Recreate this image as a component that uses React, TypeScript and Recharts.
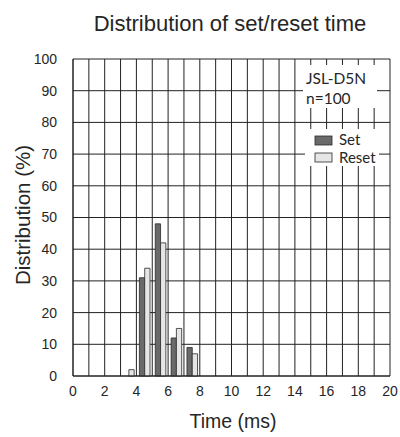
import { BarChart, Bar, XAxis, YAxis, CartesianGrid } from "recharts"

// time bins (ms), bar sits at bin center
const binCenters = [3.5, 4.5, 5.5, 6.5, 7.5]
const setPct = [0, 31, 48, 12, 9]
const resetPct = [2, 34, 42, 15, 7]

const xTicks = [0, 1, 2, 3, 4, 5, 6, 7, 8, 9, 10, 11, 12, 13, 14, 15, 16, 17, 18, 19, 20]
const yTicks = [0, 10, 20, 30, 40, 50, 60, 70, 80, 90, 100]

const seriesNames = ["Set", "Reset"]
const modelName = "JSL-D5N"
const sampleLabel = "n=100"

const data = binCenters.map((bin, i) => ({ bin, set: setPct[i], reset: resetPct[i] }))

const FONT = "'Liberation Sans', Arial, sans-serif"
const NOTE_FONT = "Lato, 'Liberation Sans', sans-serif"
const SET_FILL = "#6a6a6a"
const RESET_FILL = "#e6e6e6"
const EDGE = "#2a2a2a"
const TEXT = "#262626"

export default function App() {
  return (
    <div style={{ position: "absolute", left: 0, top: 0, width: 400, height: 437, background: "#fff" }}>
      <BarChart
        width={400}
        height={437}
        data={data}
        margin={{ top: 59, right: 10, left: 0, bottom: 31 }}
        barGap={0}
      >
        <CartesianGrid stroke="#222" strokeWidth={1} />
        <XAxis
          dataKey="bin"
          type="number"
          domain={[0, 20]}
          ticks={xTicks}
          interval={0}
          height={30}
          tickSize={0}
          tickMargin={10}
          tickFormatter={(v) => (v % 2 === 0 ? String(v) : "")}
          tick={{ fill: TEXT, fontSize: 14, fontFamily: FONT }}
          axisLine={{ stroke: "#222" }}
        />
        <YAxis
          type="number"
          domain={[0, 100]}
          ticks={yTicks}
          interval={0}
          width={73}
          tickSize={0}
          tickMargin={16}
          tick={{ fill: TEXT, fontSize: 14, fontFamily: FONT }}
          axisLine={{ stroke: "#222" }}
        />
        <Bar dataKey="set" name={seriesNames[0]} fill={SET_FILL} stroke={EDGE} strokeWidth={0.8} barSize={5.3} isAnimationActive={false} />
        <Bar dataKey="reset" name={seriesNames[1]} fill={RESET_FILL} stroke={EDGE} strokeWidth={0.8} barSize={5.3} isAnimationActive={false} />
      </BarChart>
      <svg
        width={400}
        height={437}
        style={{ position: "absolute", left: 0, top: 0, pointerEvents: "none" }}
      >
        <text x={230} y={31} textAnchor="middle" fontSize={22} fontFamily={FONT} fill={TEXT}>
          Distribution of set/reset time
        </text>
        <text x={233} y={428} textAnchor="middle" fontSize={19.5} fontFamily={FONT} fill={TEXT}>
          Time (ms)
        </text>
        <text
          transform="translate(30,215) rotate(-90)"
          textAnchor="middle"
          fontSize={20.5}
          fontFamily={FONT}
          fill={TEXT}
        >
          Distribution (%)
        </text>
        <rect x={303} y={65} width={74} height={43} fill="#fff" />
        <text x={306} y={84} fontSize={15.5} fontFamily={NOTE_FONT} fill={TEXT}>{modelName}</text>
        <text x={306} y={104} fontSize={15.5} fontFamily={NOTE_FONT} fill={TEXT}>{sampleLabel}</text>
        <rect x={305} y={129} width={74} height={37} fill="#fff" />
        <rect x={315} y={136} width={17} height={9} fill={SET_FILL} stroke={EDGE} strokeWidth={0.8} />
        <text x={339} y={145} fontSize={15} fontFamily={NOTE_FONT} fill={TEXT}>{seriesNames[0]}</text>
        <rect x={315} y={153} width={17} height={9} fill={RESET_FILL} stroke={EDGE} strokeWidth={0.8} />
        <text x={339} y={163} fontSize={15} fontFamily={NOTE_FONT} fill={TEXT}>{seriesNames[1]}</text>
      </svg>
    </div>
  )
}
